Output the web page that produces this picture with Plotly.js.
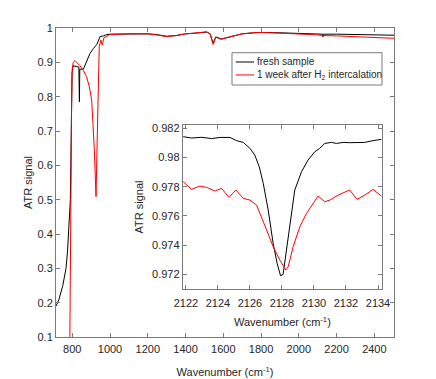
<!DOCTYPE html>
<html>
<head>
<meta charset="utf-8">
<script src="https://cdn.plot.ly/plotly-3.0.1.min.js"></script>
<style>
  html, body { margin: 0; padding: 0; background: #fff; }
  #chart { width: 436px; height: 379px; }
</style>
</head>
<body>
<div id="chart"></div>
<script>
// Full spectrum, fresh sample
const freshWn = [714, 730, 750, 767, 775, 781, 787, 790, 795, 799, 805, 820, 835, 838, 840, 859,
  880, 894, 912, 930, 940, 947, 965, 982, 1000, 1100, 1200, 1244, 1300, 1350, 1400, 1450, 1512,
  1530, 1546, 1560, 1590, 1620, 1652, 1700, 1760, 1800, 1900, 2000, 2100, 2126, 2128, 2130,
  2200, 2300, 2400, 2504];
const freshVal = [0.19, 0.21, 0.25, 0.30, 0.35, 0.40, 0.46, 0.50, 0.70, 0.87, 0.89, 0.888, 0.886, 0.785, 0.88, 0.88,
  0.905, 0.926, 0.94, 0.952, 0.965, 0.975, 0.977, 0.981, 0.982, 0.983, 0.983, 0.981, 0.976, 0.978, 0.983, 0.985, 0.988,
  0.983, 0.956, 0.974, 0.968, 0.972, 0.977, 0.983, 0.986, 0.987, 0.986, 0.985, 0.983, 0.982, 0.976, 0.982,
  0.982, 0.981, 0.980, 0.979];

// Full spectrum, 1 week after H2 intercalation
const agedWn = [786, 790, 793, 796, 800, 805, 815, 827, 841, 860, 876, 890, 903, 917, 926, 933, 938,
  943, 952, 959, 968, 985, 1000, 1100, 1200, 1244, 1300, 1350, 1400, 1450, 1512, 1530, 1546, 1560,
  1590, 1620, 1652, 1700, 1760, 1800, 1900, 2000, 2100, 2126, 2128, 2130, 2200, 2300, 2400, 2504];
const agedVal = [0.0, 0.2, 0.5, 0.75, 0.88, 0.9, 0.905, 0.898, 0.89, 0.875, 0.858, 0.83, 0.79, 0.645, 0.509, 0.694, 0.868,
  0.946, 0.965, 0.95, 0.972, 0.978, 0.981, 0.983, 0.983, 0.98, 0.975, 0.978, 0.983, 0.985, 0.989, 0.983, 0.952, 0.973,
  0.967, 0.972, 0.977, 0.983, 0.986, 0.987, 0.985, 0.983, 0.98, 0.978, 0.974, 0.978, 0.977, 0.975, 0.973, 0.970];

// Inset: 2122-2134 cm-1 region
const insetFreshWn = [2121.83, 2122.35, 2122.98, 2123.6, 2124.12, 2124.75, 2125.16, 2125.58, 2126.0, 2126.3,
  2126.58, 2126.83, 2127.14, 2127.45, 2127.7, 2127.91, 2128.07, 2128.28, 2128.53, 2128.8, 2129.22, 2129.63,
  2130.05, 2130.36, 2130.67, 2131.09, 2131.4, 2131.82, 2132.23, 2132.65, 2133.17, 2133.69, 2134.21];
const insetFreshVal = [0.98143, 0.98134, 0.98139, 0.9813, 0.98138, 0.98138, 0.98116, 0.98104, 0.98063, 0.98017,
  0.97937, 0.97823, 0.97641, 0.97412, 0.97275, 0.97191, 0.972, 0.97367, 0.97595, 0.97778, 0.97903, 0.97983,
  0.9804, 0.98063, 0.98097, 0.98104, 0.98097, 0.98104, 0.98102, 0.98104, 0.98104, 0.98116, 0.98125];

const insetAgedWn = [2121.83, 2122.35, 2122.87, 2123.29, 2123.81, 2124.23, 2124.69, 2125.12, 2125.58, 2126.0,
  2126.41, 2126.72, 2127.04, 2127.45, 2127.87, 2128.24, 2128.39, 2128.7, 2129.12, 2129.53, 2129.95, 2130.26,
  2130.67, 2130.99, 2131.5, 2132.23, 2132.69, 2133.17, 2133.69, 2134.21];
const insetAgedVal = [0.97835, 0.97782, 0.97805, 0.97796, 0.97771, 0.97789, 0.97727, 0.97778, 0.97721, 0.97709,
  0.97675, 0.97595, 0.97504, 0.9739, 0.97298, 0.9723, 0.97253, 0.9739, 0.97527, 0.97618, 0.97686, 0.97737,
  0.97698, 0.97709, 0.97743, 0.97778, 0.97714, 0.97743, 0.97782, 0.97737];

const seriesNames = ["fresh sample", "1 week after H<sub>2</sub> intercalation"];
const seriesColors = ["#000000", "#ff0000"];

const FONT = "Liberation Sans, Arial, Helvetica, sans-serif";
const TXT = "#262626";
const AX = "#7a7a7a";

const traces = [
  { x: freshWn, y: freshVal, mode: "lines", name: seriesNames[0],
    line: {color: seriesColors[0], width: 1}, xaxis: "x", yaxis: "y" },
  { x: agedWn, y: agedVal, mode: "lines", name: seriesNames[1],
    line: {color: seriesColors[1], width: 1}, xaxis: "x", yaxis: "y" },
  { x: insetFreshWn, y: insetFreshVal, mode: "lines",
    line: {color: seriesColors[0], width: 1}, xaxis: "x2", yaxis: "y2" },
  { x: insetAgedWn, y: insetAgedVal, mode: "lines",
    line: {color: seriesColors[1], width: 1}, xaxis: "x2", yaxis: "y2" }
];

// shared MATLAB-ish axis look
function axisStyle(extra){
  return Object.assign({
    showline: true, linecolor: AX, linewidth: 1, mirror: "allticks",
    ticks: "inside", ticklen: 4, tickcolor: AX, tickwidth: 1,
    showgrid: false, zeroline: false,
    tickfont: {family: FONT, size: 11, color: TXT}
  }, extra);
}

// MATLAB-style compact legend box (short line samples), in paper coords of the main axes
const legX0 = 0.5207, legX1 = 0.9645, legY0 = 0.8155, legY1 = 0.920;
const legRows = [0.890, 0.848];
const shapes = [
  {type: "rect", xref: "paper", yref: "paper", x0: legX0, x1: legX1, y0: legY0, y1: legY1,
   line: {color: AX, width: 1}, fillcolor: "#ffffff", layer: "above"}
];
const annotations = [];
legRows.forEach((yy, i) => {
  shapes.push({type: "line", xref: "paper", yref: "paper", x0: 0.5317, x1: 0.5858, y0: yy, y1: yy,
    line: {color: seriesColors[i], width: 1}, layer: "above"});
  annotations.push({xref: "paper", yref: "paper", x: 0.5888, y: yy, xanchor: "left", yanchor: "middle",
    text: seriesNames[i], showarrow: false, font: {family: FONT, size: 10, color: TXT}});
});

const layout = {
  width: 436, height: 379,
  paper_bgcolor: "#ffffff",
  plot_bgcolor: "#ffffff",
  margin: {l: 56, r: 42, t: 28, b: 42},
  font: {family: FONT, color: TXT},
  showlegend: false,
  xaxis: axisStyle({
    range: [714, 2504], tickvals: [800, 1000, 1200, 1400, 1600, 1800, 2000, 2200, 2400],
    domain: [0, 1], anchor: "y", ticklabelstandoff: 2,
    title: {text: "Wavenumber (cm<sup>-1</sup>)", font: {family: FONT, size: 11, color: TXT}, standoff: 14}
  }),
  yaxis: axisStyle({
    range: [0.1, 1], dtick: 0.1, domain: [0, 1], anchor: "x",
    title: {text: "ATR signal", font: {family: FONT, size: 11, color: TXT}, standoff: 2}
  }),
  xaxis2: axisStyle({
    range: [2121.8, 2134.25], dtick: 2, tick0: 2122,
    domain: [0.375, 0.9645], anchor: "y2", ticklabelstandoff: 4,
    title: {text: "Wavenumber (cm<sup>-1</sup>)", font: {family: FONT, size: 11, color: TXT}, standoff: 10}
  }),
  yaxis2: axisStyle({
    range: [0.971, 0.98223], dtick: 0.002, tick0: 0.972,
    domain: [0.1553, 0.686], anchor: "x2",
    title: {text: "ATR signal", font: {family: FONT, size: 11, color: TXT}, standoff: 6}
  }),
  shapes: shapes,
  annotations: annotations
};

Plotly.newPlot("chart", traces, layout, {displayModeBar: false, staticPlot: true});
</script>
</body>
</html>
